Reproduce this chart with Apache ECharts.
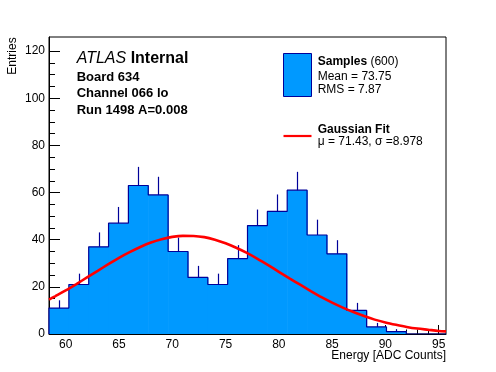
<!DOCTYPE html>
<html><head><meta charset="utf-8">
<script src="https://cdn.jsdelivr.net/npm/echarts@6/dist/echarts.min.js"></script>
<style>html,body{margin:0;padding:0;background:#fff}#c{width:496px;height:372px}</style>
</head><body><div id="c"></div>
<script>
// ---- data ----
const binLow = 58.43;
const binWidth = 1.863;
const counts = [11,21,37,47,63,59,35,24,21,32,46,52,61,42,34,10,3,1,0,0];
const errUp  = [3.3,4.6,6.1,6.9,7.9,7.7,5.9,4.9,4.6,5.7,6.8,7.2,7.8,6.5,5.8,3.2,1.7,1.0,0,0];
const fitX = [58.43,59,60,61,62,63,64,65,66,67,68,69,70,71,72,73,74,75,76,77,78,79,80,81,82,83,84,85,86,87,88,89,90,91,92,93,94,95,95.69];
const fitY = [14.6,16.0,18.5,21.2,24.0,26.8,29.6,32.3,34.7,36.9,38.8,40.2,41.2,41.65,41.6,41.1,40.0,38.5,36.6,34.4,31.9,29.2,26.4,23.6,20.9,18.2,15.6,13.3,11.2,9.3,7.6,6.1,4.9,3.9,3.0,2.3,1.8,1.3,1.1];
const xMajorTicks = [60,65,70,75,80,85,90,95];
const xMinorTicks = [59,60,61,62,63,64,65,66,67,68,69,70,71,72,73,74,75,76,77,78,79,80,81,82,83,84,85,86,87,88,89,90,91,92,93,94,95];
const yMajorTicks = [0,20,40,60,80,100,120];
const yMinorTicks = [5,10,15,20,25,30,35,40,45,50,55,60,65,70,75,80,85,90,95,100,105,110,115,120];
const xMin = 58.43, xMax = 95.69, yMin = 0, yMax = 126;

const FF = '"Liberation Sans", Arial, Helvetica, sans-serif';
const FILL = '#0099ff', EDGE = '#000099';

const edges = counts.map((_, i) => binLow + i * binWidth).concat([binLow + counts.length * binWidth]);
const barData = counts.map((v, i) => [edges[i], edges[i + 1], v, errUp[i]]);
const outline = [[edges[0], 0]];
counts.forEach((v, i) => { outline.push([edges[i], v]); outline.push([edges[i + 1], v]); });
outline.push([edges[counts.length], 0]);
const fitData = fitX.map((x, i) => [x, fitY[i]]);

const chart = echarts.init(document.getElementById('c'), null, {renderer: 'canvas'});
const axisCommon = {type: 'value', splitLine: {show: false}};
chart.setOption({
  animation: false,
  backgroundColor: '#fff',
  grid: {left: 49, right: 50, top: 37, bottom: 38, show: true, borderColor: '#000', borderWidth: 1, backgroundColor: 'transparent', outerBoundsMode: 'none'},
  xAxis: [
    Object.assign({}, axisCommon, {min: xMin, max: xMax, position: 'bottom',
      axisLine: {show: true, lineStyle: {color: '#000', width: 1}},
      axisTick: {show: true, inside: true, length: 9, customValues: xMajorTicks, lineStyle: {color: '#000'}},
      axisLabel: {show: true, customValues: xMajorTicks, color: '#000', fontSize: 12, fontFamily: FF, margin: 5}}),
    Object.assign({}, axisCommon, {min: xMin, max: xMax, position: 'bottom',
      axisLine: {show: false},
      axisTick: {show: true, inside: true, length: 4.5, customValues: xMinorTicks, lineStyle: {color: '#000'}},
      axisLabel: {show: false}})
  ],
  yAxis: [
    Object.assign({}, axisCommon, {min: yMin, max: yMax, position: 'left',
      axisLine: {show: true, lineStyle: {color: '#000', width: 1}},
      axisTick: {show: true, inside: true, length: 11, customValues: yMajorTicks, lineStyle: {color: '#000'}},
      axisLabel: {show: true, customValues: yMajorTicks, color: '#000', fontSize: 12, fontFamily: FF, margin: 4}}),
    Object.assign({}, axisCommon, {min: yMin, max: yMax, position: 'left',
      axisLine: {show: false},
      axisTick: {show: true, inside: true, length: 6, customValues: yMinorTicks, lineStyle: {color: '#000'}},
      axisLabel: {show: false}})
  ],
  series: [
    {
      type: 'custom', xAxisIndex: 0, yAxisIndex: 0, data: barData, encode: {x: [0, 1], y: [2]}, z: 2, clip: true,
      renderItem: function (params, api) {
        const p0 = api.coord([api.value(0), api.value(2)]);
        const p1 = api.coord([api.value(1), 0]);
        return {type: 'rect', shape: {x: p0[0], y: p0[1], width: p1[0] - p0[0] + 0.6, height: p1[1] - p0[1]}, style: {fill: FILL}};
      }
    },
    {
      type: 'line', xAxisIndex: 0, yAxisIndex: 0, data: outline, showSymbol: false, symbol: 'none', z: 3,
      lineStyle: {color: EDGE, width: 1.2}, silent: true
    },
    {
      type: 'custom', xAxisIndex: 0, yAxisIndex: 0, data: barData, encode: {x: [0, 1], y: [2]}, z: 4,
      renderItem: function (params, api) {
        const v = api.value(2), e = api.value(3);
        if (!(v > 0)) return null;
        const c = (api.value(0) + api.value(1)) / 2;
        const a = api.coord([c, v]);
        const b = api.coord([c, v + e]);
        const x = Math.round(a[0]) + 0.5;
        return {type: 'line', shape: {x1: x, y1: a[1], x2: x, y2: b[1]}, style: {stroke: EDGE, lineWidth: 1.2}};
      }
    },
    {
      type: 'line', xAxisIndex: 0, yAxisIndex: 0, data: fitData, showSymbol: false, symbol: 'none', smooth: 0.3, z: 5,
      lineStyle: {color: '#ff0000', width: 2.6}, silent: true
    }
  ],
  graphic: [
    {type: 'text', x: 76.7, y: 58.5, style: {text: '{i|ATLAS} {b|Internal}', font: '16px ' + FF, fill: '#000', verticalAlign: 'middle',
      rich: {i: {fontStyle: 'italic', fontSize: 16, fontFamily: FF, fill: '#000'}, b: {fontWeight: 'bold', fontSize: 16, fontFamily: FF, fill: '#000'}}}},
    {type: 'text', x: 76.7, y: 77.3, style: {text: 'Board 634', font: 'bold 13px ' + FF, fill: '#000', verticalAlign: 'middle'}},
    {type: 'text', x: 76.7, y: 93.5, style: {text: 'Channel 066 lo', font: 'bold 13px ' + FF, fill: '#000', verticalAlign: 'middle'}},
    {type: 'text', x: 76.7, y: 110, style: {text: 'Run 1498 A=0.008', font: 'bold 13px ' + FF, fill: '#000', verticalAlign: 'middle'}},
    {type: 'rect', shape: {x: 283.5, y: 53.5, width: 28, height: 43}, style: {fill: FILL, stroke: EDGE, lineWidth: 1}},
    {type: 'text', x: 317.7, y: 61.5, style: {text: '{b|Samples} (600)', font: '12px ' + FF, fill: '#000', verticalAlign: 'middle',
      rich: {b: {fontWeight: 'bold', fontSize: 12, fontFamily: FF, fill: '#000'}}}},
    {type: 'text', x: 317.7, y: 76.7, style: {text: 'Mean = 73.75', font: '12px ' + FF, fill: '#000', verticalAlign: 'middle'}},
    {type: 'text', x: 317.7, y: 90, style: {text: 'RMS = 7.87', font: '12px ' + FF, fill: '#000', verticalAlign: 'middle'}},
    {type: 'line', shape: {x1: 283.5, y1: 136, x2: 311.5, y2: 136}, style: {stroke: '#ff0000', lineWidth: 2.2}},
    {type: 'text', x: 317.7, y: 129.5, style: {text: 'Gaussian Fit', font: 'bold 12px ' + FF, fill: '#000', verticalAlign: 'middle'}},
    {type: 'text', x: 317.7, y: 142, style: {text: 'μ = 71.43, σ =8.978', font: '12px ' + FF, fill: '#000', verticalAlign: 'middle'}},
    {type: 'text', x: 13, y: 56, rotation: Math.PI / 2, style: {text: 'Entries', font: '12px ' + FF, fill: '#000', align: 'center', verticalAlign: 'middle'}},
    {type: 'text', x: 446, y: 356, style: {text: 'Energy [ADC Counts]', font: '12px ' + FF, fill: '#000', align: 'right', verticalAlign: 'middle'}}
  ]
});
</script>
</body></html>
